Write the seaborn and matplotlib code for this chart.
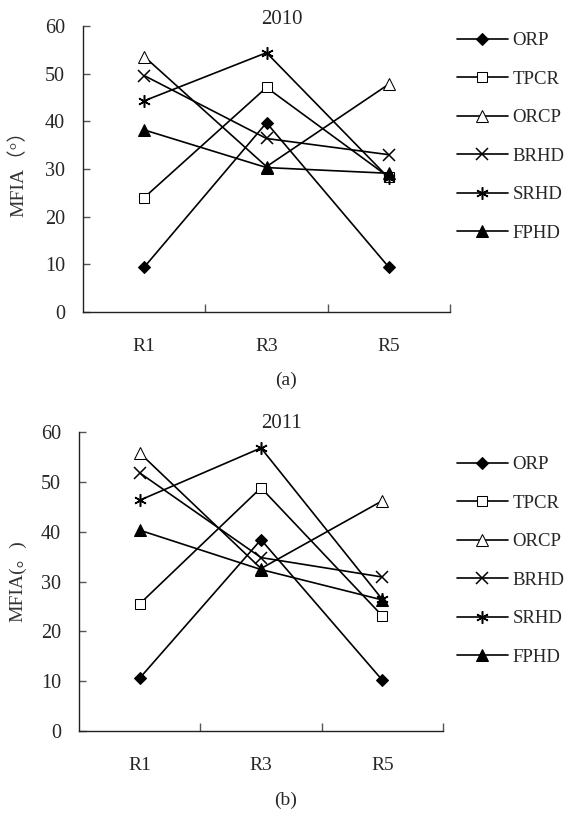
import pandas as pd
import numpy as np
import matplotlib
matplotlib.use("Agg")
import matplotlib.pyplot as plt
import seaborn as sns

# posiciones de muestreo
regiones = ["R1", "R3", "R5"]
series = ["ORP", "TPCR", "ORCP", "BRHD", "SRHD", "FPHD"]

# MFIA 2010
orp_2010 = [9.4, 39.7, 9.4]
tpcr_2010 = [24.0, 47.1, 28.3]
orcp_2010 = [53.6, 30.5, 47.8]
brhd_2010 = [49.6, 36.4, 33.0]
srhd_2010 = [44.3, 54.4, 28.1]
fphd_2010 = [38.2, 30.3, 29.1]

# MFIA 2011
orp_2011 = [10.6, 38.4, 10.2]
tpcr_2011 = [25.5, 48.8, 23.1]
orcp_2011 = [55.8, 32.6, 46.2]
brhd_2011 = [51.8, 34.8, 30.9]
srhd_2011 = [46.3, 56.8, 26.4]
fphd_2011 = [40.3, 32.4, 26.3]

yticks = [0, 10, 20, 30, 40, 50, 60]

# estilo de marcador por serie (relleno negro o blanco)
estilos = {
    "ORP": dict(marker="D", markerfacecolor="black", markersize=6.5),
    "TPCR": dict(marker="s", markerfacecolor="white", markersize=7),
    "ORCP": dict(marker="^", markerfacecolor="white", markersize=8),
    "BRHD": dict(marker="x", markersize=8, markeredgewidth=1.1),
    "SRHD": dict(marker=(6, 2, 0), markersize=9, markeredgewidth=1.1),
    "FPHD": dict(marker="^", markerfacecolor="black", markersize=8),
}

sns.set_style("ticks")
plt.rcParams['font.family'] = ['Liberation Serif', 'Noto Sans CJK SC', 'DejaVu Sans']
FS = 14.5

fig = plt.figure(figsize=(5.71, 8.13), dpi=100)


def panel(rect, datos, titulo, ylabel, letra, tx, ty, ly, leg_top):
    ax = fig.add_axes(rect)
    df = pd.DataFrame({"Region": regiones * len(series),
                       "Serie": np.repeat(series, len(regiones)),
                       "MFIA": np.concatenate(datos)})
    for s in series:
        sub = df[df["Serie"] == s]
        sns.lineplot(data=sub, x="Region", y="MFIA", ax=ax, color="black",
                     linewidth=1.2, markeredgecolor="black", label=s,
                     **estilos[s])
    ax.set_xlim(-0.5, 2.5)
    ax.set_ylim(0, 60)
    ax.set_yticks(yticks)
    ax.set_yticklabels([str(v) for v in yticks], fontsize=FS)
    ax.set_xticks([0, 1, 2])
    ax.set_xticklabels(regiones, fontsize=FS - 0.5)
    ax.set_xticks([0.5, 1.5, 2.5], minor=True)
    ax.tick_params(axis="x", which="major", length=0, pad=19)
    ax.tick_params(axis="x", which="minor", direction="in", length=6, width=1, color="#555555")
    ax.tick_params(axis="y", direction="in", length=5, width=1, pad=13, color="#555555")
    ax.set_xlabel("")
    ax.set_ylabel(ylabel, fontsize=FS - 0.5, color="#333333",
                  family=['Liberation Serif', 'Noto Sans CJK SC'], va="center")
    # centro de la etiqueta a ~18 px del borde izquierdo
    ax.yaxis.set_label_coords((18 - rect[0] * 571) / (rect[2] * 571), 0.5)
    sns.despine(ax=ax)
    for sp in ["left", "bottom"]:
        ax.spines[sp].set_linewidth(1.0)
        ax.spines[sp].set_color("#222222")
    ax.get_legend().remove()
    fig.text(tx / 571, 1 - ty / 813, titulo, ha="center", va="center", fontsize=FS + 0.5)
    fig.text(286 / 571, 1 - ly / 813, letra, ha="center", va="center", fontsize=FS - 0.5)
    h, l = ax.get_legend_handles_labels()
    fig.legend(h, l, loc="upper left", bbox_to_anchor=(457 / 571, 1 - leg_top / 813),
               frameon=False, fontsize=FS - 1, handlelength=2.7, handletextpad=0.27,
               labelspacing=1.14, borderaxespad=0, borderpad=0)
    return ax


panel([83 / 571, 1 - 312 / 813, 367 / 571, 286 / 813],
      [orp_2010, tpcr_2010, orcp_2010, brhd_2010, srhd_2010, fphd_2010],
      "2010", "MFIA（°）", "(a)", 282, 19, 380, 32)
panel([79 / 571, 1 - 731 / 813, 364 / 571, 299 / 813],
      [orp_2011, tpcr_2011, orcp_2011, brhd_2011, srhd_2011, fphd_2011],
      "2011", "MFIA(。)", "(b)", 281, 423, 800, 456)

fig.savefig("out.png", dpi=100)
